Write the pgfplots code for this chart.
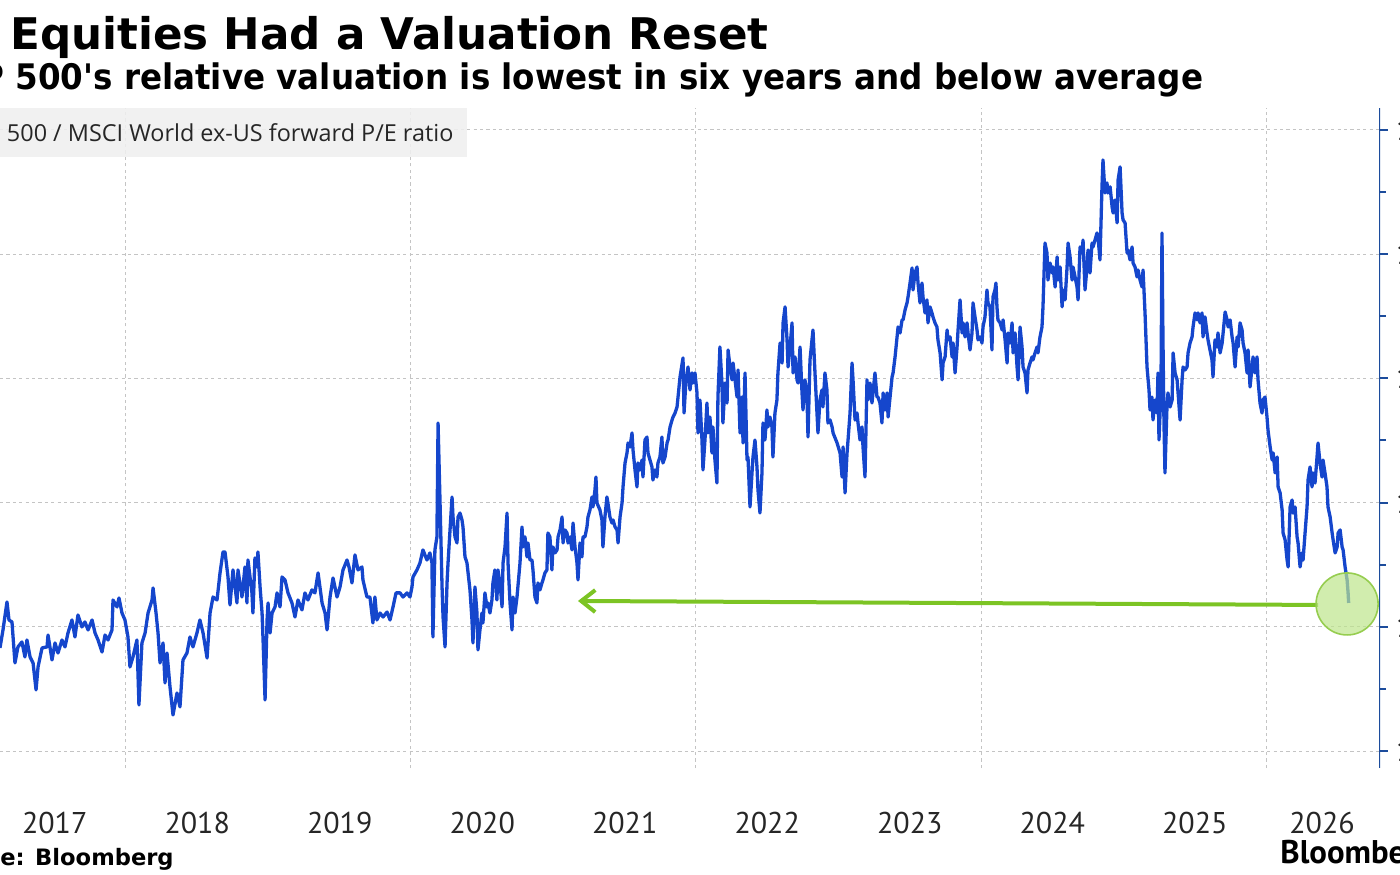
\documentclass[border=0pt]{standalone}
\usepackage{fontspec}
\usepackage{graphicx}
\usepackage{pgfplots}
\pgfplotsset{compat=1.18}
\usetikzlibrary{arrows.meta}
\newfontfamily\dejavu{DejaVu Sans}
\newfontfamily\ptsans{PT Sans}
\newfontfamily\opensans{Open Sans}
\definecolor{lineblue}{HTML}{1546CC}
\definecolor{axblue}{HTML}{1C4C9C}
\definecolor{annogreen}{HTML}{7CC424}
\definecolor{circfill}{HTML}{BEE68C}
\definecolor{circedge}{HTML}{96CD50}
\definecolor{boxgray}{HTML}{EFEFEF}
\definecolor{gridgray}{HTML}{C4C4C4}
\begin{document}
\begin{tikzpicture}
% titles (left part cropped by the page edge as in the reference)
\node[anchor=base west, inner sep=0pt] at (5pt,-24.5pt)
  {\dejavu\bfseries\fontsize{21.8}{26}\selectfont\llap{US }Equities Had a Valuation Reset};
\node[anchor=base west, inner sep=0pt] at (7.5pt,-44.8pt)
  {\scalebox{0.925}[1]{\dejavu\bfseries\fontsize{17.6}{21}\selectfont\llap{S\&P }500's relative valuation is lowest in six years and below average}};
\begin{axis}[
  at={(0pt,-54pt)}, anchor=north west,
  scale only axis, width=690pt, height=330pt,
  xmin=2017.116, xmax=2026.800,
  ymin=1.0863, ymax=1.6177,
  axis line style={draw=none},
  clip=true,
  xtick={2017.5,2018.5,2019.5,2020.5,2021.5,2022.5,2023.5,2024.5,2025.5,2026.393},
  xticklabels={2017,2018,2019,2020,2021,2022,2023,2024,2025,2026},
  xtick style={draw=none},
  xticklabel style={font=\ptsans\fontsize{15}{18}\selectfont, anchor=base, yshift=-28.5pt, text=black!85},
  extra x ticks={2018,2020,2022,2024,2026},
  extra x tick labels={},
  extra x tick style={grid=major, major tick length=0pt},
  ytick={1.1,1.2,1.3,1.4,1.5,1.6},
  minor y tick num=1,
  ytick pos=right, yticklabel pos=right,
  tick align=outside,
  major tick length=4pt, minor tick length=3pt,
  every tick/.style={axblue, line width=1pt},
  ymajorgrids,
  major grid style={gridgray, dash pattern=on 1.6pt off 1.6pt, line width=0.5pt},
  /pgf/number format/.cd, fixed, fixed zerofill, precision=2, assume math mode=true,
  /pgfplots/.cd,
  yticklabel style={font=\ptsans\fontsize{15}{18}\selectfont, anchor=west, xshift=0.5pt, text=black!85},
]
\addplot[color=lineblue, line width=1.65pt, line join=round] coordinates {
(2017.116,1.1830)(2017.137,1.1975)(2017.165,1.2200)(2017.179,1.2055)(2017.200,1.2039)(2017.221,1.1709)(2017.242,1.1838)(2017.270,1.1878)(2017.291,1.1757)(2017.305,1.1894)(2017.327,1.1757)(2017.348,1.1709)(2017.369,1.1492)(2017.383,1.1677)(2017.411,1.1830)(2017.446,1.1838)(2017.453,1.1934)(2017.481,1.1733)(2017.502,1.1870)(2017.523,1.1789)(2017.551,1.1894)(2017.572,1.1838)(2017.593,1.1950)(2017.621,1.2055)(2017.642,1.1918)(2017.663,1.2095)(2017.691,1.1999)(2017.712,1.2039)(2017.734,1.1975)(2017.762,1.2055)(2017.783,1.1950)(2017.804,1.1894)(2017.832,1.1797)(2017.853,1.1934)(2017.874,1.1894)(2017.902,1.1975)(2017.909,1.2216)(2017.937,1.2160)(2017.951,1.2232)(2017.972,1.2111)(2017.993,1.2055)
(2018.014,1.1918)(2018.028,1.1677)(2018.049,1.1757)(2018.077,1.1894)(2018.091,1.1371)(2018.112,1.1870)(2018.134,1.1950)(2018.155,1.2111)(2018.183,1.2216)(2018.190,1.2313)(2018.211,1.2111)(2018.225,1.1950)(2018.239,1.1709)(2018.260,1.1870)(2018.274,1.1548)(2018.288,1.1789)(2018.309,1.1516)(2018.330,1.1290)(2018.358,1.1467)(2018.379,1.1355)(2018.400,1.1733)(2018.428,1.1789)(2018.449,1.1918)(2018.470,1.1838)(2018.498,1.1950)(2018.519,1.2055)(2018.541,1.1950)(2018.569,1.1749)(2018.590,1.2111)(2018.611,1.2240)(2018.639,1.2216)(2018.660,1.2434)(2018.681,1.2603)(2018.695,1.2603)(2018.716,1.2401)(2018.730,1.2176)(2018.751,1.2458)(2018.779,1.2192)(2018.786,1.2458)(2018.814,1.2240)(2018.835,1.2482)(2018.849,1.2192)(2018.856,1.2538)(2018.884,1.2273)(2018.891,1.2111)(2018.905,1.2554)(2018.919,1.2482)(2018.926,1.2603)(2018.941,1.2321)(2018.955,1.2111)(2018.962,1.1894)(2018.976,1.1411)(2018.990,1.2055)(2018.997,1.2192)
(2019.011,1.1950)(2019.025,1.2111)(2019.046,1.2160)(2019.060,1.2273)(2019.081,1.2160)(2019.095,1.2401)(2019.116,1.2377)(2019.137,1.2273)(2019.165,1.2192)(2019.186,1.2079)(2019.207,1.2216)(2019.235,1.2136)(2019.256,1.2273)(2019.277,1.2216)(2019.305,1.2297)(2019.326,1.2273)(2019.348,1.2434)(2019.376,1.2192)(2019.397,1.2111)(2019.411,1.1975)(2019.432,1.2240)(2019.453,1.2393)(2019.481,1.2240)
(2019.502,1.2321)(2019.523,1.2458)(2019.551,1.2538)(2019.565,1.2482)(2019.586,1.2353)(2019.607,1.2579)(2019.628,1.2458)(2019.656,1.2482)(2019.663,1.2377)(2019.691,1.2240)(2019.712,1.2240)(2019.733,1.2031)(2019.747,1.2240)(2019.761,1.2055)(2019.783,1.2111)(2019.804,1.2079)(2019.832,1.2119)(2019.853,1.2055)(2019.874,1.2160)(2019.895,1.2273)(2019.923,1.2273)(2019.944,1.2240)(2019.972,1.2273)(2019.993,1.2240)
(2020.007,1.2321)(2020.014,1.2401)(2020.042,1.2458)(2020.063,1.2514)(2020.084,1.2619)(2020.112,1.2538)(2020.133,1.2595)(2020.147,1.2514)(2020.154,1.1918)(2020.168,1.2619)(2020.182,1.2724)(2020.190,1.3641)(2020.204,1.2997)(2020.218,1.2321)(2020.225,1.2079)(2020.239,1.1838)(2020.253,1.2353)(2020.260,1.2514)(2020.274,1.2780)(2020.288,1.3045)(2020.295,1.2884)(2020.309,1.2724)(2020.323,1.2675)(2020.330,1.2884)(2020.344,1.2916)(2020.358,1.2860)(2020.365,1.2804)(2020.379,1.2563)(2020.393,1.2514)(2020.414,1.2297)(2020.428,1.2055)(2020.435,1.1870)(2020.449,1.2321)(2020.463,1.2111)(2020.470,1.1814)(2020.484,1.1975)(2020.498,1.2111)(2020.505,1.2031)(2020.519,1.2273)(2020.533,1.2160)(2020.540,1.2192)(2020.554,1.2111)(2020.568,1.2216)(2020.575,1.2353)(2020.589,1.2458)(2020.603,1.2216)(2020.610,1.2458)(2020.625,1.2353)(2020.639,1.2160)(2020.646,1.2514)(2020.660,1.2643)(2020.674,1.2916)(2020.681,1.2514)(2020.695,1.2192)(2020.709,1.1975)(2020.716,1.2240)(2020.730,1.2111)(2020.744,1.2240)(2020.765,1.2514)(2020.779,1.2804)(2020.786,1.2643)(2020.800,1.2724)(2020.814,1.2563)(2020.821,1.2675)(2020.835,1.2538)(2020.849,1.2538)(2020.856,1.2458)(2020.870,1.2240)(2020.884,1.2192)(2020.891,1.2353)(2020.905,1.2297)(2020.919,1.2353)(2020.926,1.2377)(2020.940,1.2434)(2020.954,1.2458)(2020.961,1.2755)(2020.975,1.2724)(2020.989,1.2458)(2020.996,1.2643)
(2021.011,1.2595)(2021.025,1.2619)(2021.032,1.2724)(2021.046,1.2780)(2021.060,1.2884)(2021.067,1.2675)(2021.081,1.2780)(2021.095,1.2755)(2021.102,1.2675)(2021.116,1.2724)(2021.130,1.2619)(2021.137,1.2836)(2021.151,1.2643)(2021.165,1.2514)(2021.172,1.2377)(2021.186,1.2675)(2021.200,1.2563)(2021.207,1.2724)(2021.221,1.2724)(2021.235,1.2804)(2021.242,1.2884)(2021.256,1.2941)(2021.270,1.3045)(2021.277,1.2965)(2021.291,1.3102)(2021.298,1.3206)(2021.305,1.2997)(2021.326,1.2941)(2021.340,1.2860)(2021.347,1.2643)(2021.361,1.2884)(2021.375,1.3045)(2021.382,1.2997)(2021.396,1.2884)(2021.410,1.2836)(2021.418,1.2860)(2021.432,1.2804)(2021.446,1.2780)(2021.453,1.2675)(2021.467,1.2884)(2021.481,1.2997)(2021.488,1.3126)(2021.502,1.3319)(2021.516,1.3400)(2021.523,1.3480)(2021.537,1.3448)(2021.551,1.3561)(2021.558,1.3424)(2021.572,1.3263)(2021.586,1.3126)(2021.593,1.3319)(2021.607,1.3263)(2021.621,1.3343)(2021.628,1.3206)(2021.642,1.3504)(2021.656,1.3528)(2021.663,1.3400)(2021.677,1.3343)(2021.691,1.3287)(2021.698,1.3182)(2021.712,1.3263)(2021.726,1.3206)(2021.733,1.3319)(2021.747,1.3367)(2021.761,1.3528)(2021.768,1.3319)(2021.783,1.3367)(2021.797,1.3480)(2021.804,1.3504)(2021.818,1.3609)(2021.832,1.3665)(2021.839,1.3689)(2021.853,1.3721)(2021.867,1.3770)(2021.874,1.3850)(2021.888,1.4012)(2021.909,1.4165)(2021.916,1.3721)(2021.930,1.3988)(2021.944,1.4092)(2021.958,1.3907)(2021.972,1.4044)(2021.979,1.3963)(2021.993,1.4044)
(2022.007,1.3883)(2022.014,1.3561)(2022.028,1.3826)(2022.042,1.3504)(2022.049,1.3263)(2022.063,1.3504)(2022.077,1.3802)(2022.084,1.3561)(2022.098,1.3689)(2022.112,1.3400)(2022.119,1.3609)(2022.133,1.3343)(2022.147,1.3158)(2022.154,1.3850)(2022.168,1.4253)(2022.182,1.3963)(2022.189,1.3641)(2022.204,1.3963)(2022.218,1.3802)(2022.225,1.4229)(2022.239,1.4092)(2022.253,1.3988)(2022.260,1.4124)(2022.274,1.3988)(2022.288,1.3850)(2022.295,1.4068)(2022.309,1.3561)(2022.323,1.3850)(2022.330,1.3480)(2022.344,1.4044)(2022.358,1.3343)(2022.365,1.3367)(2022.379,1.2965)(2022.393,1.3239)(2022.400,1.3367)(2022.414,1.3504)(2022.428,1.3287)(2022.435,1.3102)(2022.449,1.2916)(2022.463,1.3239)(2022.470,1.3641)(2022.484,1.3504)(2022.498,1.3746)(2022.505,1.3609)(2022.519,1.3689)(2022.533,1.3609)(2022.540,1.3367)(2022.554,1.3721)(2022.568,1.3826)(2022.575,1.4044)(2022.590,1.4285)(2022.604,1.4124)(2022.611,1.4447)(2022.625,1.4576)(2022.639,1.4310)(2022.646,1.4092)(2022.660,1.4253)(2022.674,1.4447)(2022.681,1.4044)(2022.695,1.4173)(2022.709,1.3988)(2022.716,1.3963)(2022.730,1.4253)(2022.744,1.3883)(2022.751,1.3746)(2022.765,1.3988)(2022.779,1.3850)(2022.786,1.3528)(2022.800,1.4149)(2022.814,1.4310)(2022.821,1.4390)(2022.835,1.4044)(2022.849,1.3721)(2022.856,1.3561)(2022.870,1.3826)(2022.884,1.3907)(2022.891,1.3770)(2022.905,1.4044)(2022.919,1.3907)(2022.926,1.3641)(2022.941,1.3665)(2022.955,1.3609)(2022.962,1.3561)(2022.990,1.3480)
(2023.011,1.3400)(2023.025,1.3206)(2023.032,1.3448)(2023.046,1.3078)(2023.060,1.3400)(2023.067,1.3504)(2023.081,1.3721)(2023.095,1.4124)(2023.102,1.3988)(2023.116,1.3665)(2023.130,1.3721)(2023.137,1.3641)(2023.151,1.3504)(2023.165,1.3609)(2023.172,1.3448)(2023.186,1.3206)(2023.200,1.3988)(2023.207,1.3826)(2023.221,1.3963)(2023.235,1.3802)(2023.242,1.3883)(2023.256,1.4044)(2023.270,1.3850)(2023.277,1.3850)(2023.291,1.3802)(2023.305,1.3641)(2023.313,1.3883)(2023.327,1.3746)(2023.341,1.3883)(2023.348,1.3689)(2023.362,1.3850)(2023.376,1.4012)(2023.383,1.4044)(2023.397,1.4173)(2023.411,1.4334)(2023.418,1.4414)(2023.432,1.4366)(2023.446,1.4471)(2023.453,1.4471)(2023.467,1.4551)(2023.481,1.4608)(2023.488,1.4656)(2023.502,1.4768)(2023.516,1.4889)(2023.523,1.4712)(2023.537,1.4849)(2023.551,1.4897)(2023.558,1.4768)(2023.572,1.4608)(2023.586,1.4768)(2023.593,1.4656)(2023.607,1.4527)(2023.621,1.4632)(2023.628,1.4447)(2023.642,1.4576)(2023.656,1.4527)(2023.663,1.4495)(2023.677,1.4447)(2023.691,1.4414)(2023.698,1.4310)(2023.713,1.4205)(2023.727,1.3988)(2023.734,1.4124)(2023.748,1.4173)(2023.762,1.4390)(2023.769,1.4310)(2023.783,1.4334)(2023.797,1.4173)(2023.804,1.4285)(2023.818,1.4044)(2023.832,1.4253)(2023.839,1.4390)(2023.853,1.4632)(2023.867,1.4366)(2023.874,1.4447)(2023.888,1.4334)(2023.902,1.4447)(2023.909,1.4366)(2023.923,1.4229)(2023.937,1.4366)(2023.944,1.4608)(2023.958,1.4495)(2023.972,1.4390)(2023.979,1.4310)(2023.993,1.4334)
(2024.007,1.4285)(2024.014,1.4414)(2024.028,1.4495)(2024.042,1.4712)(2024.049,1.4608)(2024.063,1.4576)(2024.077,1.4229)(2024.084,1.4656)(2024.098,1.4712)(2024.105,1.4768)(2024.112,1.4576)(2024.119,1.4471)(2024.134,1.4447)(2024.148,1.4390)(2024.155,1.4471)(2024.169,1.4310)(2024.183,1.4124)(2024.190,1.4366)(2024.204,1.4285)(2024.218,1.4447)(2024.225,1.4205)(2024.239,1.4366)(2024.253,1.4092)(2024.260,1.3988)(2024.274,1.4414)(2024.288,1.4253)(2024.295,1.4092)(2024.309,1.4044)(2024.323,1.3883)(2024.330,1.4068)(2024.344,1.4124)(2024.358,1.4173)(2024.365,1.4149)(2024.379,1.4205)(2024.393,1.4253)(2024.400,1.4205)(2024.414,1.4334)(2024.428,1.4414)(2024.435,1.4576)(2024.449,1.5090)(2024.463,1.5010)(2024.470,1.4792)(2024.485,1.4929)(2024.499,1.4849)(2024.506,1.4897)(2024.520,1.4736)(2024.534,1.4978)(2024.541,1.4792)(2024.555,1.4897)(2024.569,1.4576)(2024.576,1.4712)(2024.590,1.4632)(2024.604,1.4897)(2024.611,1.5090)(2024.625,1.4978)(2024.639,1.4792)(2024.646,1.4897)(2024.660,1.4817)(2024.674,1.4736)(2024.681,1.4632)(2024.695,1.5058)(2024.709,1.5010)(2024.716,1.5114)(2024.730,1.4712)(2024.744,1.4897)(2024.751,1.5034)(2024.765,1.4849)(2024.779,1.5090)(2024.786,1.5058)(2024.800,1.5114)(2024.814,1.5171)(2024.821,1.5139)(2024.835,1.4954)(2024.849,1.5542)(2024.856,1.5759)(2024.870,1.5493)(2024.884,1.5574)(2024.891,1.5493)(2024.906,1.5542)(2024.920,1.5381)(2024.927,1.5332)(2024.941,1.5437)(2024.955,1.5252)(2024.962,1.5598)(2024.976,1.5703)(2024.990,1.5332)(2024.997,1.5276)
(2025.011,1.5252)(2025.025,1.5010)(2025.032,1.5034)(2025.046,1.4954)(2025.060,1.5058)(2025.067,1.4929)(2025.081,1.4897)(2025.095,1.4817)(2025.102,1.4873)(2025.116,1.4792)(2025.130,1.4736)(2025.137,1.4873)(2025.151,1.4527)(2025.158,1.4310)(2025.165,1.4092)(2025.179,1.3907)(2025.186,1.3746)(2025.200,1.3850)(2025.207,1.3665)(2025.221,1.3826)(2025.235,1.3721)(2025.242,1.4044)(2025.249,1.3504)(2025.263,1.3907)(2025.270,1.5171)(2025.277,1.4310)(2025.284,1.3641)(2025.291,1.3239)(2025.305,1.3770)(2025.312,1.3883)(2025.327,1.3770)(2025.341,1.3826)(2025.348,1.4205)(2025.362,1.4044)(2025.376,1.3988)(2025.383,1.3883)(2025.397,1.3665)(2025.411,1.3988)(2025.418,1.4092)(2025.432,1.4068)(2025.446,1.4092)(2025.453,1.4205)(2025.467,1.4285)(2025.481,1.4334)(2025.488,1.4414)(2025.502,1.4527)(2025.516,1.4471)(2025.523,1.4527)(2025.537,1.4447)(2025.551,1.4527)(2025.558,1.4334)(2025.572,1.4495)(2025.586,1.4366)(2025.593,1.4310)(2025.607,1.4229)(2025.621,1.4149)(2025.628,1.4012)(2025.642,1.4310)(2025.656,1.4253)(2025.663,1.4366)(2025.678,1.4205)(2025.692,1.4285)(2025.699,1.4366)(2025.713,1.4535)(2025.727,1.4471)(2025.734,1.4414)(2025.748,1.4471)(2025.762,1.4334)(2025.769,1.4285)(2025.783,1.4092)(2025.797,1.4334)(2025.804,1.4253)(2025.818,1.4447)(2025.832,1.4390)(2025.839,1.4285)(2025.853,1.4205)(2025.867,1.4044)(2025.874,1.4229)(2025.888,1.3931)(2025.902,1.4092)(2025.909,1.4173)(2025.923,1.4044)(2025.937,1.4173)(2025.944,1.3988)(2025.958,1.3802)(2025.972,1.3721)(2025.979,1.3826)(2025.993,1.3850)
(2026.007,1.3689)(2026.014,1.3585)(2026.029,1.3448)(2026.043,1.3343)(2026.050,1.3400)(2026.064,1.3239)(2026.078,1.3367)(2026.085,1.3126)(2026.099,1.3078)(2026.113,1.2941)(2026.120,1.2755)(2026.134,1.2699)(2026.148,1.2538)(2026.155,1.2482)(2026.169,1.2965)(2026.183,1.3021)(2026.190,1.2916)(2026.204,1.2965)(2026.218,1.2724)(2026.225,1.2675)(2026.239,1.2482)(2026.253,1.2595)(2026.260,1.2538)(2026.274,1.2755)(2026.288,1.2965)(2026.295,1.3182)(2026.309,1.3287)(2026.323,1.3126)(2026.330,1.3239)(2026.344,1.3158)(2026.358,1.3367)(2026.365,1.3480)(2026.379,1.3319)(2026.393,1.3206)(2026.400,1.3343)(2026.414,1.3239)(2026.428,1.3126)(2026.435,1.2965)(2026.450,1.2884)(2026.464,1.2755)(2026.471,1.2699)(2026.485,1.2595)(2026.499,1.2643)(2026.506,1.2755)(2026.520,1.2780)(2026.534,1.2643)(2026.541,1.2619)(2026.555,1.2482)(2026.569,1.2377)(2026.576,1.2273)(2026.580,1.2192)
};
% right axis line
\draw[axblue, line width=1.3pt] (rel axis cs:1,0) -- (rel axis cs:1,1);
% annotation: arrow back to the 2020 level and circle round the latest value
\draw[annogreen, line width=2pt, {Straight Barb[length=7pt,width=11pt]}-] (axis cs:2021.172,1.2208) -- (axis cs:2026.365,1.2176);
\draw[circedge, line width=0.8pt, fill=circfill, fill opacity=0.7] (axis cs:2026.569,1.2184) circle[radius=15.5pt];
\end{axis}
% series label box
\fill[boxgray, fill opacity=0.88] (-20pt,-54pt) rectangle (233.5pt,-78.5pt);
\node[anchor=base west, inner sep=0pt] at (3.3pt,-70.5pt)
  {\opensans\fontsize{11.7}{14}\selectfont\color{black!85}\llap{S\&P }500 / MSCI World ex-US forward P/E ratio};
% footer
\node[anchor=base west, inner sep=0pt] at (0pt,-432.5pt)
  {\dejavu\bfseries\fontsize{11.3}{14}\selectfont\llap{Sourc}e: Bloomberg};
\node[anchor=base west, inner sep=0pt] at (640pt,-431.5pt)
  {\ptsans\bfseries\fontsize{16.4}{19}\selectfont Bloomberg};
\pgfresetboundingbox
\path[use as bounding box] (0pt,0pt) rectangle (700pt,-437pt);
\end{tikzpicture}
\end{document}
